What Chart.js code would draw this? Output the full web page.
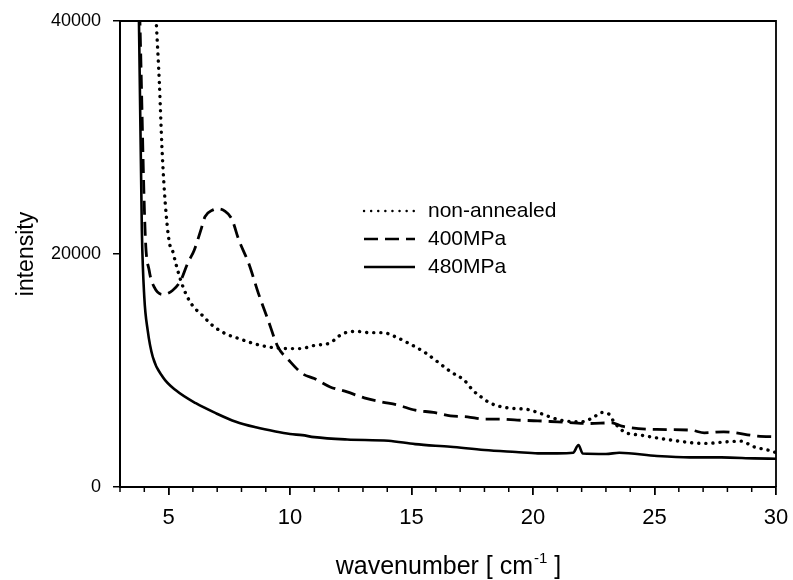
<!DOCTYPE html>
<html>
<head>
<meta charset="utf-8">
<script src="https://cdn.jsdelivr.net/npm/chart.js@4.4.1/dist/chart.umd.min.js"></script>
<style>
  html, body { margin: 0; padding: 0; background: #fff; }
  #wrap { width: 793px; height: 580px; }
</style>
</head>
<body>
<div id="wrap"><canvas id="myChart" width="793" height="580"></canvas></div>
<script>
// wavenumber / intensity
var nonAnnealedX = [4.5, 4.62, 4.73, 4.86, 5.03, 5.16, 5.3, 5.5, 5.71, 5.98, 6.39, 6.8, 7.34, 7.89, 8.43, 9.11, 9.93, 10.4, 11.02, 11.63, 12.17, 12.72, 13.27, 13.81, 14.36, 14.9, 15.52, 16.08, 16.62, 17.17, 17.52, 17.86, 18.27, 18.95, 19.78, 20.31, 21.12, 21.96, 22.52, 22.79, 23.13, 23.33, 23.75, 24.44, 25.67, 27.04, 28.0, 28.55, 29.09, 29.78, 30.0];
var nonAnnealedY = [39600, 34700, 29000, 24430, 21000, 20300, 19160, 17730, 16590, 15590, 14730, 13880, 13160, 12740, 12360, 12020, 11880, 11880, 12160, 12360, 13160, 13360, 13250, 13250, 12870, 12310, 11590, 10730, 9880, 9160, 8310, 7730, 7170, 6790, 6650, 6310, 5740, 5590, 6020, 6400, 6250, 5590, 4740, 4450, 4030, 3740, 3880, 3940, 3450, 3110, 2950];

var mpa400X = [3.72, 3.82, 4.04, 4.2, 4.41, 4.76, 5.16, 5.5, 5.78, 6.05, 6.32, 6.5, 6.8, 7.02, 7.3, 7.6, 7.9, 8.3, 8.7, 9.1, 9.5, 9.95, 10.5, 11.0, 11.65, 12.35, 13.05, 13.75, 14.45, 15.15, 15.9, 16.6, 17.3, 18.0, 18.65, 19.35, 20.2, 21.0, 22.3, 23.25, 23.65, 25.1, 26.5, 27.05, 27.85, 29.25, 30.0];
var mpa400Y = [48000, 40000, 21600, 18600, 17150, 16530, 16870, 17730, 19180, 20300, 22000, 23200, 23750, 23870, 23700, 23000, 21150, 19180, 16600, 14300, 12020, 10880, 9740, 9310, 8590, 8160, 7650, 7310, 7020, 6600, 6400, 6110, 6020, 5820, 5820, 5740, 5680, 5590, 5450, 5510, 5220, 4940, 4880, 4650, 4740, 4370, 4310];

var mpa480X = [3.68, 3.78, 3.9, 4.0, 4.14, 4.35, 4.76, 5.3, 6.12, 6.94, 7.77, 8.59, 9.4, 10.0, 10.5, 11.0, 12.35, 14.05, 15.15, 16.6, 18.0, 19.3, 20.2, 21.0, 21.65, 21.87, 22.05, 23.0, 23.55, 25.1, 26.45, 27.75, 29.1, 30.0];
var mpa480Y = [48000, 40000, 22000, 16300, 13450, 11160, 9450, 8300, 7190, 6340, 5600, 5120, 4760, 4550, 4450, 4280, 4080, 3970, 3680, 3450, 3170, 3000, 2890, 2890, 2940, 3600, 2870, 2830, 2940, 2660, 2540, 2540, 2460, 2420];

var seriesNames = ['non-annealed', '400MPa', '480MPa'];
var xMajorTicks = [5, 10, 15, 20, 25, 30];
var yTicks = [0, 20000, 40000];

var FONT = "'Liberation Sans', Arial, Helvetica, sans-serif";
Chart.defaults.font.family = FONT;
Chart.defaults.color = '#000';

function pairs(xs, ys) {
  return xs.map(function (x, i) { return { x: x, y: ys[i] }; });
}

// frame, minor ticks, axis titles, legend
var extras = {
  id: 'extras',
  afterDraw: function (chart) {
    var ctx = chart.ctx;
    var a = chart.chartArea;
    var xs = chart.scales.x;
    ctx.save();
    ctx.strokeStyle = '#000';
    ctx.lineWidth = 1.8;
    ctx.beginPath();
    ctx.moveTo(a.left, a.top);
    ctx.lineTo(a.right, a.top);
    ctx.lineTo(a.right, a.bottom);
    ctx.stroke();

    // minor ticks every unit
    ctx.lineWidth = 1.5;
    for (var v = 3; v <= 30; v++) {
      if (v % 5 === 0) continue;
      var px = xs.getPixelForValue(v);
      ctx.beginPath();
      ctx.moveTo(px, a.bottom);
      ctx.lineTo(px, a.bottom + 5);
      ctx.stroke();
    }

    // y title
    ctx.fillStyle = '#000';
    ctx.font = '23px ' + FONT;
    ctx.textAlign = 'center';
    ctx.textBaseline = 'middle';
    ctx.save();
    ctx.translate(27, (a.top + a.bottom) / 2);
    ctx.rotate(-Math.PI / 2);
    ctx.fillText('intensity', 0, 0);
    ctx.restore();

    // x title with superscript
    var p1 = 'wavenumber [ cm', sup = '-1', p2 = ' ]';
    ctx.font = '25px ' + FONT;
    var w1 = ctx.measureText(p1).width, w3 = ctx.measureText(p2).width;
    ctx.font = '15px ' + FONT;
    var w2 = ctx.measureText(sup).width;
    var total = w1 + w2 + w3;
    var sx = (a.left + a.right) / 2 - total / 2;
    var by = 574;
    ctx.textAlign = 'left';
    ctx.textBaseline = 'alphabetic';
    ctx.font = '25px ' + FONT;
    ctx.fillText(p1, sx, by);
    ctx.font = '15px ' + FONT;
    ctx.fillText(sup, sx + w1 + 1, by - 11);
    ctx.font = '25px ' + FONT;
    ctx.fillText(p2, sx + w1 + w2 + 1, by);

    // legend inside the plot
    var lx = 364, ly = 211, step = 28;
    chart.data.datasets.forEach(function (ds, i) {
      var y = ly + i * step;
      ctx.strokeStyle = ds.borderColor;
      ctx.lineWidth = Math.min(ds.borderWidth, 2.4);
      ctx.lineCap = ds.borderCapStyle || 'butt';
      ctx.setLineDash(ds.borderDash || []);
      ctx.beginPath();
      ctx.moveTo(lx, y);
      ctx.lineTo(lx + 51, y);
      ctx.stroke();
      ctx.setLineDash([]);
      ctx.font = '21px ' + FONT;
      ctx.textBaseline = 'middle';
      ctx.fillStyle = '#000';
      ctx.fillText(ds.label, 428, y);
    });
    ctx.restore();
  }
};

new Chart(document.getElementById('myChart').getContext('2d'), {
  type: 'line',
  data: {
    datasets: [
      {
        label: seriesNames[0],
        data: pairs(nonAnnealedX, nonAnnealedY),
        borderColor: '#000',
        borderWidth: 3.4,
        borderDash: [0.1, 7],
        borderCapStyle: 'round',
        pointRadius: 0,
        cubicInterpolationMode: 'monotone',
        fill: false
      },
      {
        label: seriesNames[1],
        data: pairs(mpa400X, mpa400Y),
        borderColor: '#000',
        borderWidth: 2.8,
        borderDash: [14, 7],
        pointRadius: 0,
        cubicInterpolationMode: 'monotone',
        fill: false
      },
      {
        label: seriesNames[2],
        data: pairs(mpa480X, mpa480Y),
        borderColor: '#000',
        borderWidth: 2.6,
        pointRadius: 0,
        cubicInterpolationMode: 'monotone',
        fill: false
      }
    ]
  },
  options: {
    responsive: false,
    animation: false,
    layout: { padding: { left: 0, top: 21, right: 17, bottom: 0 } },
    plugins: {
      legend: { display: false },
      tooltip: { enabled: false }
    },
    scales: {
      x: {
        type: 'linear',
        min: 3,
        max: 30,
        afterBuildTicks: function (s) {
          s.ticks = xMajorTicks.map(function (v) { return { value: v }; });
        },
        afterFit: function (s) {
          s.height = 93;
          s.paddingLeft = 0;
          s.paddingRight = 0;
        },
        ticks: {
          font: { size: 22 },
          padding: 10,
          maxRotation: 0,
          autoSkip: false,
          callback: function (v) { return String(v); }
        },
        grid: { drawOnChartArea: false, drawTicks: true, tickLength: 8, color: '#000', lineWidth: 1.8 },
        border: { display: true, color: '#000', width: 2 }
      },
      y: {
        min: 0,
        max: 40000,
        afterBuildTicks: function (s) {
          s.ticks = yTicks.map(function (v) { return { value: v }; });
        },
        afterFit: function (s) {
          s.width = 120;
          s.paddingTop = 0;
          s.paddingBottom = 0;
        },
        ticks: {
          font: { size: 18 },
          padding: 12,
          callback: function (v) { return String(v); }
        },
        grid: { drawOnChartArea: false, drawTicks: true, tickLength: 7, color: '#000', lineWidth: 1.5 },
        border: { display: true, color: '#000', width: 2 }
      }
    }
  },
  plugins: [extras]
});
</script>
</body>
</html>
